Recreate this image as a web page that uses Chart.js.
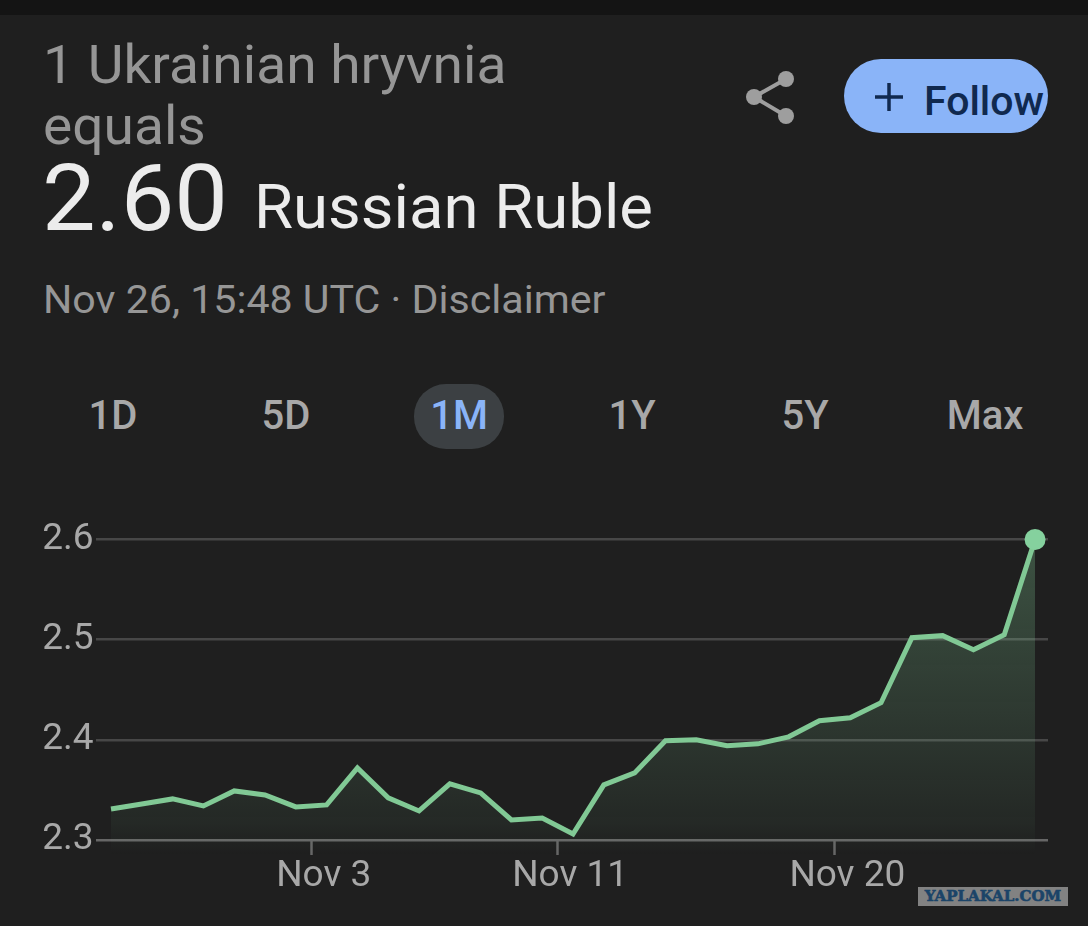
<!DOCTYPE html>
<html>
<head>
<meta charset="utf-8">
<title>UAH to RUB</title>
<script src="https://cdn.jsdelivr.net/npm/chart.js@4.5.0/dist/chart.umd.js"></script>
<style>
  html, body { margin: 0; padding: 0; background: #1f1f1f; overflow: hidden; }
  body { width: 1088px; height: 926px; position: relative; font-family: Roboto, sans-serif; }
  .t { position: absolute; white-space: nowrap; line-height: 1; transform-origin: left top; }
  #topbar { position: absolute; left: 0; top: 0; width: 1088px; height: 15px; background: #141414; }
  #line1, #line2 { left: 43px; font-size: 53px; color: #969696; transform: scaleX(1.04); }
  #line1 { top: 39px; } #line2 { top: 100px; }
  #rate { left: 42px; top: 152px; font-size: 93px; color: #ececec; transform: scaleX(1.025); }
  #unit { left: 254px; top: 177px; font-size: 61px; color: #ececec; transform: scaleX(1.04); }
  #stamp { left: 43px; top: 281px; font-size: 39px; color: #969696; transform: scaleX(1.055); }
  #follow { position: absolute; left: 844px; top: 59px; width: 204px; height: 74px; border-radius: 37px; background: #8ab4f8; overflow: hidden; }
  #follow span { position: absolute; left: 80px; top: 22px; font-size: 41px; font-weight: 500; color: #10294f; line-height: 1; }
  .tab { position: absolute; top: 396px; font-size: 40px; font-weight: 500; color: #a8a8a8; line-height: 1; transform: translateX(-50%); }
  #pill { position: absolute; left: 414px; top: 384px; width: 90px; height: 65px; border-radius: 32px; background: #3c4043; }
  #chartbox { position: absolute; left: 0; top: 500px; width: 1088px; height: 426px; }
  #mark { position: absolute; left: 918px; top: 887px; width: 150px; height: 19px; background: #828282; color: #1b4468;
          font: bold 15px "DejaVu Serif", serif; line-height: 19px; text-align: center; -webkit-text-stroke: 0.6px #1b4468; }
</style>
</head>
<body>
<div id="topbar"></div>
<div class="t" id="line1">1 Ukrainian hryvnia</div>
<div class="t" id="line2">equals</div>
<div class="t" id="rate">2.60</div>
<div class="t" id="unit">Russian Ruble</div>
<div class="t" id="stamp">Nov 26, 15:48 UTC · Disclaimer</div>

<svg style="position:absolute;left:740px;top:60px" width="70" height="70" viewBox="740 60 70 70">
  <path d="M786 79 L754 97 L786 116" fill="none" stroke="#9e9e9e" stroke-width="4"/>
  <circle cx="786" cy="79" r="8" fill="#9e9e9e"/>
  <circle cx="754" cy="97" r="8" fill="#9e9e9e"/>
  <circle cx="786" cy="116" r="8" fill="#9e9e9e"/>
</svg>
<div id="follow">
  <svg style="position:absolute;left:30px;top:23px" width="30" height="30"><path d="M15 1 V29 M1 15 H29" stroke="#10294f" stroke-width="3.5"/></svg>
  <span>Follow</span>
</div>

<div id="pill"></div>
<div class="tab" style="left:113px">1D</div>
<div class="tab" style="left:286px">5D</div>
<div class="tab" style="left:459px;color:#8ab4f8">1M</div>
<div class="tab" style="left:632px">1Y</div>
<div class="tab" style="left:805px">5Y</div>
<div class="tab" style="left:985px">Max</div>

<div id="chartbox"><canvas id="chart"></canvas></div>
<div id="mark">YAPLAKAL.COM</div>

<script>
// one reading per day
const days = [0,1,2,3,4,5,6,7,8,9,10,11,12,13,14,15,16,17,18,19,20,21,22,23,24,25,26,27,28,29,30];
const rates = [
  2.331,2.336,2.341,2.334,2.349,2.345,2.333,2.335,2.372,2.342,2.329,
  2.356,2.347,2.320,2.322,2.306,2.355,2.367,2.399,2.400,2.394,2.396,
  2.403,2.419,2.422,2.437,2.502,2.504,2.490,2.505,2.600
];
const xTickDays = [6.5, 14.5, 23.5];
const xTickLabels = ["Nov 3", "Nov 11", "Nov 20"];
const yTicks = [2.3, 2.4, 2.5, 2.6];

const GREEN = "#81c995";
const TEXT = "#a8a8a8";

Chart.defaults.font.family = "Roboto, sans-serif";

new Chart(document.getElementById("chart"), {
  type: "line",
  data: {
    datasets: [{
      data: days.map((d, i) => ({ x: d, y: rates[i] })),
      borderColor: GREEN,
      borderWidth: 5,
      tension: 0,
      clip: false,
      fill: "start",
      backgroundColor: (ctx) => {
        const area = ctx.chart.chartArea;
        if (!area) return "transparent";
        const g = ctx.chart.ctx.createLinearGradient(0, area.top, 0, area.bottom);
        g.addColorStop(0, "rgba(129,201,149,.30)");
        g.addColorStop(0.9, "rgba(129,201,149,.06)");
        g.addColorStop(1, "rgba(129,201,149,0)");
        return g;
      },
      pointRadius: (ctx) => (ctx.dataIndex === rates.length - 1 ? 10.5 : 0),
      pointBackgroundColor: "#85d19e",
      pointBorderWidth: 0,
    }],
  },
  options: {
    responsive: true,
    maintainAspectRatio: false,
    animation: false,
    layout: { padding: { top: 39.5, right: 40, bottom: 71, left: 0 } },
    plugins: { legend: { display: false }, tooltip: { enabled: false } },
    scales: {
      x: {
        type: "linear",
        min: -0.5,
        max: 30.42,
        position: { y: 2.3 }, // axis sits on 2.3, the fill runs on below it
        afterBuildTicks: (scale) => { scale.ticks = xTickDays.map((value) => ({ value })); },
        border: { display: false },
        grid: { drawOnChartArea: false, tickLength: 15, tickColor: "#666", tickWidth: 2.5 },
        ticks: {
          color: TEXT,
          font: { size: 37 },
          padding: 0,
          labelOffset: 12.5,
          autoSkip: false,
          maxRotation: 0,
          callback: (v, i) => xTickLabels[i],
        },
      },
      y: {
        min: 2.285,
        max: 2.6,
        afterBuildTicks: (scale) => { scale.ticks = yTicks.map((value) => ({ value })); },
        afterFit: (scale) => { scale.width = 95.6; },
        border: { display: false },
        grid: {
          drawTicks: false,
          lineWidth: 2.5,
          color: (ctx) => (ctx.tick && ctx.tick.value === 2.3 ? "#666" : "#474747"),
        },
        ticks: {
          color: TEXT,
          font: { size: 37 },
          padding: 2,
          callback: (v) => v.toFixed(1),
        },
      },
    },
  },
});
</script>
</body>
</html>
